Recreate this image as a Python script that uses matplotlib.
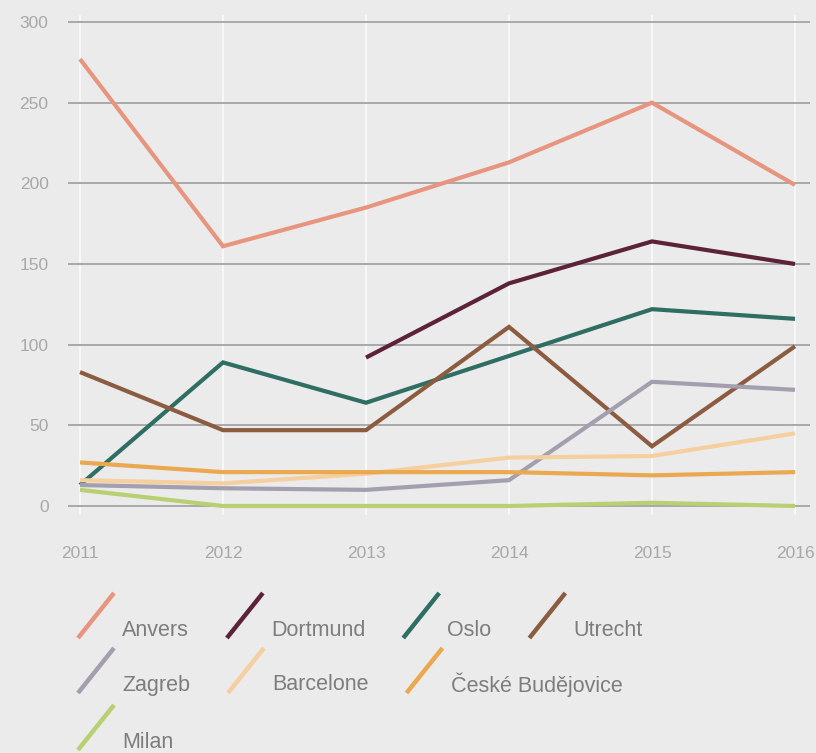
import matplotlib
matplotlib.use("Agg")
import matplotlib.pyplot as plt
from matplotlib.lines import Line2D
import numpy as np

plt.rcParams['font.family'] = ['Liberation Sans', 'DejaVu Sans']

years = [2011, 2012, 2013, 2014, 2015, 2016]
anvers = [277, 161, 185, 213, 250, 199]
dortmund = [None, None, 92, 138, 164, 150]
oslo = [13, 89, 64, 93, 122, 116]
utrecht = [83, 47, 47, 111, 37, 99]
zagreb = [13, 11, 10, 16, 77, 72]
barcelone = [16, 14, 20, 30, 31, 45]
ceske = [27, 21, 21, 21, 19, 21]
milan = [10, 0, 0, 0, 2, 0]

names = ["Anvers", "Dortmund", "Oslo", "Utrecht", "Zagreb", "Barcelone",
         "České Budějovice", "Milan"]
series = [anvers, dortmund, oslo, utrecht, zagreb, barcelone, ceske, milan]
colors = ["#e8957f", "#5b2238", "#2f6e62", "#8b5c40", "#a39fae", "#f6cf9f",
          "#eaa94f", "#b8d071"]

yticks = [0, 50, 100, 150, 200, 250, 300]

BG = "#ebebeb"
W, H = 816, 753
fig = plt.figure(figsize=(W / 100, H / 100), dpi=100, facecolor=BG)
ax = fig.add_axes([68 / W, 1 - 515 / H, (810 - 68) / W, 500 / H])
ax.set_facecolor(BG)

for name, vals, col in zip(names, series, colors):
    y = np.array([np.nan if v is None else v for v in vals], dtype=float)
    ax.plot(years, y, color=col, lw=3.0, solid_joinstyle='miter',
            solid_capstyle='butt', zorder=3)

ax.set_xlim(2011 - 12 / 143, 2016 + 15 / 143)
ax.set_ylim(-9 / 1.613, 300 + 7 / 1.613)
ax.set_yticks(yticks)
ax.set_xticks(years)
ax.set_xticklabels([str(y) for y in years])

for v in yticks:
    ax.axhline(v, color="#a3a3a3", lw=1.3, zorder=1)
for x in years:
    ax.axvline(x, color="#f7f7f7", lw=1.5, zorder=0.5)

for s in ax.spines.values():
    s.set_visible(False)
ax.tick_params(axis='both', length=0, colors="#a8a8a8", labelsize=12.5)
ax.tick_params(axis='y', pad=14)
ax.tick_params(axis='x', pad=22)

# flowing legend with slanted line keys
rows = [[0, 1, 2, 3], [4, 5, 6], [7]]
row_y = [630, 685, 742]
fig.canvas.draw()
renderer = fig.canvas.get_renderer()
for row, yc in zip(rows, row_y):
    x = 78
    for i in row:
        key = Line2D([x / W, (x + 36) / W], [1 - (yc + 8) / H, 1 - (yc - 37) / H],
                     transform=fig.transFigure, color=colors[i], lw=3.2,
                     solid_capstyle='butt')
        fig.add_artist(key)
        t = fig.text((x + 44) / W, 1 - yc / H, names[i], fontsize=15.5,
                     color="#7d7d7d", va='center', ha='left')
        bb = t.get_window_extent(renderer)
        x = x + 44 + bb.width + 38

fig.savefig("out.png", dpi=100, facecolor=BG)
